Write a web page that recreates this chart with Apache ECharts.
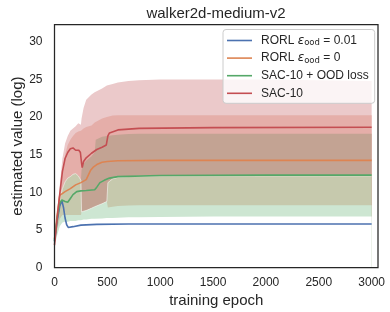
<!DOCTYPE html>
<html>
<head>
<meta charset="utf-8">
<script src="https://cdn.jsdelivr.net/npm/echarts@6/dist/echarts.min.js"></script>
<style>html,body{margin:0;padding:0;background:#fff;}#chart{width:390px;height:312px;}</style>
</head>
<body>
<div id="chart"></div>
<script>
// ---- data ----
const title = 'walker2d-medium-v2';
const xName = 'training epoch';
const yName = 'estimated value (log)';
const xTicks = [0, 500, 1000, 1500, 2000, 2500, 3000];
const yTicks = [0, 5, 10, 15, 20, 25, 30];

// shaded regions (boundary values at these epochs)
const bandEpochs   = [0, 25, 50, 75, 100, 125, 150, 175, 200, 225, 250, 256, 275, 300, 350, 380, 390, 450, 495, 505, 550, 600, 700, 800, 1000, 1500, 2000, 2500, 3000];
const redOuterUp   = [3.5, 7, 11, 14.5, 16.5, 17.5, 18.2, 18.5, 18.8, 19.2, 19.0, 19.8, 21.2, 22.3, 23.0, 23.3, 23.4, 23.8, 24.2, 24.3, 24.4, 24.6, 24.8, 24.9, 25.0, 25.0, 25.0, 24.9, 24.8];
const redInnerUp   = [3.2, 6, 9, 12.5, 15, 16.3, 17, 17.5, 17.9, 18.1, 18.2, 18.3, 18.5, 18.7, 18.9, 19.3, 19.5, 19.8, 20.0, 20.0, 20.2, 20.25, 20.25, 20.25, 20.25, 20.25, 20.25, 20.25, 20.25];
const orangeUp     = [3, 6, 9, 10.5, 11.4, 11.9, 12.1, 12.4, 12.5, 12.2, 11.6, 13.0, 13.8, 14.2, 14.8, 15.3, 17.0, 17.4, 17.5, 17.55, 17.6, 17.65, 17.75, 17.8, 17.8, 17.8, 17.8, 17.8, 17.8];
const greenUp      = [3, 6, 9, 10.5, 11.4, 11.9, 12.1, 12.4, 12.5, 12.2, 11.6, 7.4, 7.5, 7.6, 7.9, 8.1, 8.15, 8.5, 8.8, 11.3, 11.8, 12.0, 12.1, 12.15, 12.2, 12.2, 12.2, 12.2, 12.2];
const orangeLow    = [3, 5, 6.5, 7.0, 7.0, 7.0, 7.0, 7.0, 7.0, 7.0, 7.0, 7.4, 7.5, 7.6, 7.9, 8.1, 8.15, 8.5, 8.8, 8.0, 8.1, 8.2, 8.25, 8.3, 8.3, 8.3, 8.3, 8.3, 8.3];
const greenLow     = [2.8, 4.3, 5.5, 6.0, 6.1, 6.1, 6.2, 6.2, 6.2, 6.3, 6.3, 6.3, 6.4, 6.4, 6.5, 6.5, 6.5, 6.55, 6.6, 6.6, 6.6, 6.65, 6.7, 6.7, 6.75, 6.8, 6.8, 6.8, 6.8];

// mean lines
const rorl001X = [0, 25, 50, 70, 85, 100, 115, 130, 145, 175, 250, 400, 700, 1000, 2000, 3000];
const rorl001Y = [3.5, 6.2, 8.2, 8.9, 8.0, 6.6, 5.7, 5.35, 5.3, 5.45, 5.65, 5.75, 5.8, 5.8, 5.8, 5.8];
const rorl0X   = [0, 25, 50, 100, 150, 200, 250, 300, 320, 340, 370, 400, 450, 500, 600, 1000, 2000, 3000];
const rorl0Y   = [3.8, 7.0, 9.6, 10.1, 10.5, 11.0, 11.3, 11.7, 12.3, 12.9, 13.4, 13.7, 14.0, 14.1, 14.2, 14.25, 14.25, 14.25];
const sacOodX  = [0, 25, 50, 70, 100, 125, 150, 175, 210, 250, 300, 380, 400, 430, 470, 520, 600, 1000, 2000, 3000];
const sacOodY  = [3.6, 6.5, 8.6, 9.0, 8.8, 8.7, 9.2, 9.7, 10.1, 10.2, 10.25, 10.35, 10.7, 11.3, 11.6, 11.9, 12.1, 12.25, 12.3, 12.3];
const sac10X   = [0, 25, 50, 75, 100, 125, 150, 175, 200, 230, 245, 255, 262, 275, 300, 350, 400, 450, 490, 505, 520, 600, 800, 1500, 3000];
const sac10Y   = [3.0, 6.5, 9.8, 12.8, 14.5, 15.3, 15.8, 15.9, 15.6, 15.6, 15.3, 14.0, 13.3, 14.1, 14.6, 15.2, 15.7, 16.0, 16.3, 17.5, 17.9, 18.3, 18.5, 18.6, 18.65];

const seriesNames = ['RORL_001', 'RORL_0', 'SAC-10 + OOD loss', 'SAC-10'];
const legendLabels = {
  'RORL_001': '{t|RORL }{e|ε}{s|ood}{t| = 0.01}',
  'RORL_0': '{t|RORL }{e|ε}{s|ood}{t| = 0}',
  'SAC-10 + OOD loss': '{t|SAC-10 + OOD loss}',
  'SAC-10': '{t|SAC-10}'
};
</script>
<script>
const FONT = '"Liberation Sans", Arial, Helvetica, sans-serif';
const TXT = '#262626';
const zip = (xs, ys) => xs.map((x, i) => [x, ys[i]]);

function layer(tops, color, z) {
  return {
    type: 'line', data: zip(bandEpochs, tops), symbol: 'none', silent: true,
    lineStyle: { width: 0, opacity: 0 }, areaStyle: { color: color, opacity: 1 },
    z: z, legendHoverLink: false
  };
}
function meanLine(name, xs, ys, color) {
  return {
    name: name, type: 'line', data: zip(xs, ys), symbol: 'none', showSymbol: false,
    lineStyle: { width: 1.6, color: color }, itemStyle: { color: color }, z: 10
  };
}

const chart = echarts.init(document.getElementById('chart'), null, { renderer: 'canvas' });
chart.setOption({
  animation: false,
  backgroundColor: '#ffffff',
  textStyle: { fontFamily: FONT, color: TXT },
  title: {
    text: title, left: 216, top: 6, textAlign: 'center', padding: 0,
    textStyle: { fontFamily: FONT, fontSize: 15, fontWeight: 'normal', color: TXT }
  },
  grid: { left: 54.5, right: 12, top: 24.5, bottom: 44.3, containLabel: false, outerBoundsMode: 'none',
    show: true, borderColor: '#262626', borderWidth: 1.25, backgroundColor: 'transparent', z: 20 },
  xAxis: {
    type: 'value', min: 0, max: 3060, interval: 500,
    name: xName, nameLocation: 'middle', nameGap: 26, nameMoveOverlap: false,
    nameTextStyle: { fontFamily: FONT, fontSize: 15, color: TXT },
    axisLine: { show: false }, axisTick: { show: false }, splitLine: { show: false },
    axisLabel: { margin: 9, fontFamily: FONT, fontSize: 12, color: TXT,
      formatter: v => xTicks.includes(v) ? String(v) : '' }
  },
  yAxis: {
    type: 'value', min: 0, max: 32.3, interval: 5,
    name: yName, nameLocation: 'middle', nameGap: 29, nameRotate: 90, nameMoveOverlap: false,
    nameTextStyle: { fontFamily: FONT, fontSize: 15, color: TXT },
    axisLine: { show: false }, axisTick: { show: false }, splitLine: { show: false },
    axisLabel: { margin: 12, fontFamily: FONT, fontSize: 12, color: TXT,
      formatter: v => yTicks.includes(v) ? String(v) : '' }
  },
  legend: {
    data: seriesNames, orient: 'vertical', left: 223, top: 29.5,
    padding: [4, 6, 3, 4], itemWidth: 25, itemHeight: 1.6, itemGap: 3.6, icon: 'rect',
    backgroundColor: 'rgba(255,255,255,0.8)', borderColor: '#cccccc', borderWidth: 1, borderRadius: 3,
    z: 30,
    formatter: n => legendLabels[n],
    textStyle: {
      padding: [0, 0, 0, 4], lineHeight: 14,
      rich: {
        t: { fontFamily: FONT, fontSize: 12, color: TXT, lineHeight: 14 },
        e: { fontFamily: '"DejaVu Sans", sans-serif', fontStyle: 'italic', fontSize: 12, color: TXT, lineHeight: 14 },
        s: { fontFamily: '"DejaVu Sans", sans-serif', fontSize: 8.5, color: TXT, lineHeight: 7, verticalAlign: 'bottom' }
      }
    }
  },
  series: [
    layer(redOuterUp, '#ebc9ca', 1),
    layer(redInnerUp, '#e5aea9', 2),
    layer(orangeUp, '#c3a393', 3),
    layer(greenUp, '#c6c9ad', 4),
    layer(orangeLow, '#cde6d2', 5),
    layer(greenLow, '#ffffff', 6),
    { type: 'line', data: zip(bandEpochs, greenUp), symbol: 'none', silent: true,
      lineStyle: { width: 0.9, color: 'rgba(255,255,255,0.6)' }, z: 7 },
    meanLine('RORL_001', rorl001X, rorl001Y, '#4c72b0'),
    meanLine('RORL_0', rorl0X, rorl0Y, '#dd8452'),
    meanLine('SAC-10 + OOD loss', sacOodX, sacOodY, '#55a868'),
    meanLine('SAC-10', sac10X, sac10Y, '#c44e52')
  ]
});
</script>
</body>
</html>
